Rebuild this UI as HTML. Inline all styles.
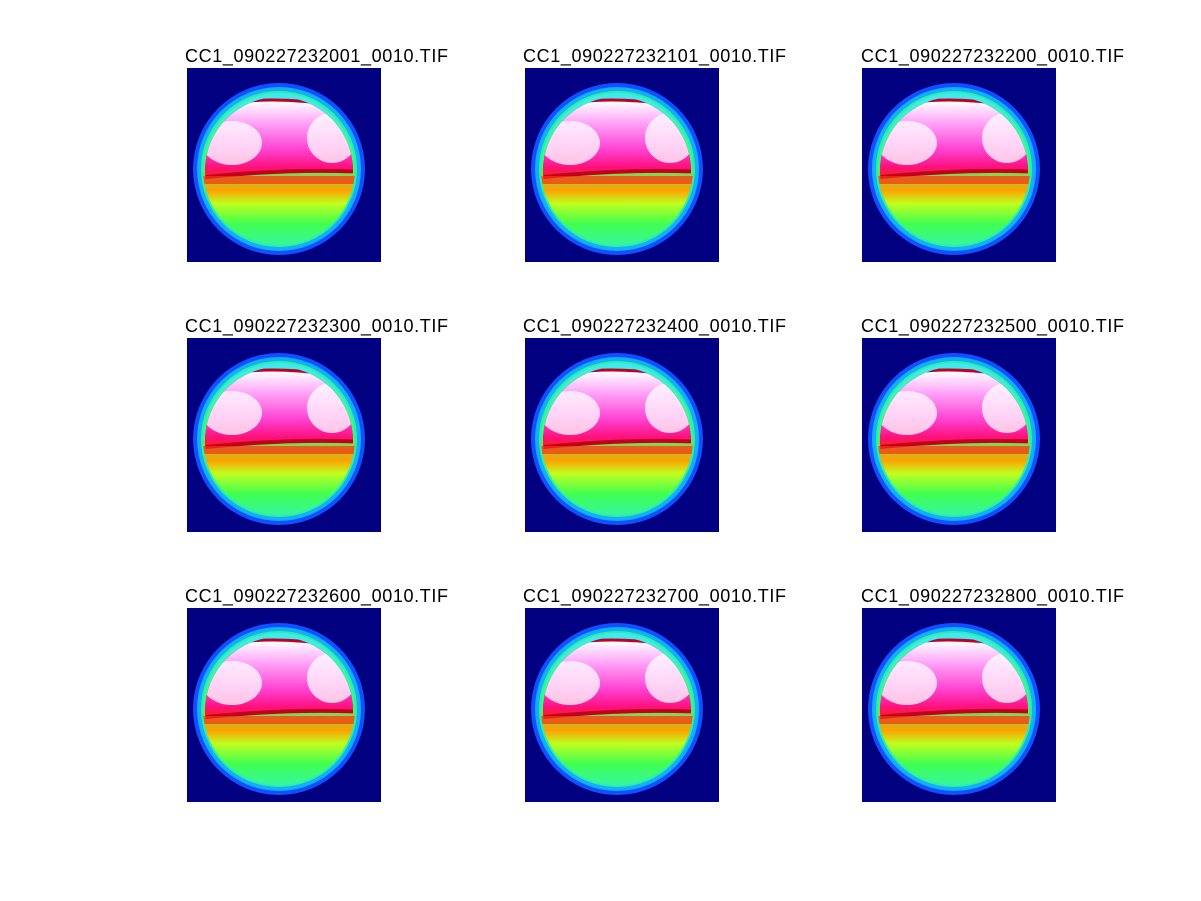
<!DOCTYPE html>
<html><head><style>body{margin:0;background:#fff}svg{display:block}</style></head><body>
<svg width="1201" height="901" viewBox="0 0 1201 901" xmlns="http://www.w3.org/2000/svg">
<defs>
<linearGradient id="low" x1="0" y1="0" x2="0" y2="1">
<stop offset="0" stop-color="#40e8ff"/>
<stop offset="0.45" stop-color="#30ff80"/>
<stop offset="0.6" stop-color="#ffa000"/>
<stop offset="0.68" stop-color="#c0ff20"/>
<stop offset="0.8" stop-color="#40ff50"/>
<stop offset="1" stop-color="#30f0d0"/>
</linearGradient>
<linearGradient id="cap" x1="0" y1="0" x2="0" y2="1">
<stop offset="0" stop-color="#ffffff"/>
<stop offset="0.3" stop-color="#ffa0f8"/>
<stop offset="0.65" stop-color="#ff40d0"/>
<stop offset="0.88" stop-color="#ff1080"/>
<stop offset="1" stop-color="#ff2020"/>
</linearGradient>
<clipPath id="c"><circle cx="92" cy="101" r="76"/></clipPath>
<clipPath id="c2"><circle cx="92" cy="103" r="74"/></clipPath>
<g id="p">
<rect width="194" height="194" fill="#000080"/>
<circle cx="92" cy="101" r="86" fill="#1050ff"/>
<circle cx="92" cy="101" r="82" fill="#10b0ff"/>
<circle cx="92" cy="101" r="78" fill="#30f0a0"/>
<g clip-path="url(#c)">
<rect x="0" y="20" width="194" height="170" fill="url(#low)"/>
</g>
<g clip-path="url(#c2)">
<path d="M10,112 L10,40 L40,34 Q90,26 150,36 L180,40 L180,106 Q100,102 10,112 Z" fill="#c00020"/>
<path d="M10,108 L10,42 L42,37 Q90,29 148,39 L178,43 L178,102 Q100,98 10,108 Z" fill="url(#cap)"/>
<ellipse cx="45" cy="75" rx="30" ry="22" fill="#ffffff" opacity="0.75"/>
<ellipse cx="145" cy="70" rx="25" ry="25" fill="#ffffff" opacity="0.75"/>
</g>
<rect x="15" y="108" width="160" height="8" fill="#ff3010" opacity="0.7" clip-path="url(#c)"/>
</g>
</defs>
<g font-family="Liberation Sans, sans-serif" font-size="18" fill="#000">
<use href="#p" x="187" y="68"/><use href="#p" x="525" y="68"/><use href="#p" x="862" y="68"/>
<use href="#p" x="187" y="338"/><use href="#p" x="525" y="338"/><use href="#p" x="862" y="338"/>
<use href="#p" x="187" y="608"/><use href="#p" x="525" y="608"/><use href="#p" x="862" y="608"/>
<text x="185" y="62" textLength="263">CC1_090227232001_0010.TIF</text>
<text x="523" y="62" textLength="263">CC1_090227232101_0010.TIF</text>
<text x="861" y="62" textLength="263">CC1_090227232200_0010.TIF</text>
<text x="185" y="332" textLength="263">CC1_090227232300_0010.TIF</text>
<text x="523" y="332" textLength="263">CC1_090227232400_0010.TIF</text>
<text x="861" y="332" textLength="263">CC1_090227232500_0010.TIF</text>
<text x="185" y="602" textLength="263">CC1_090227232600_0010.TIF</text>
<text x="523" y="602" textLength="263">CC1_090227232700_0010.TIF</text>
<text x="861" y="602" textLength="263">CC1_090227232800_0010.TIF</text>
</g>
</svg>
</body></html>
